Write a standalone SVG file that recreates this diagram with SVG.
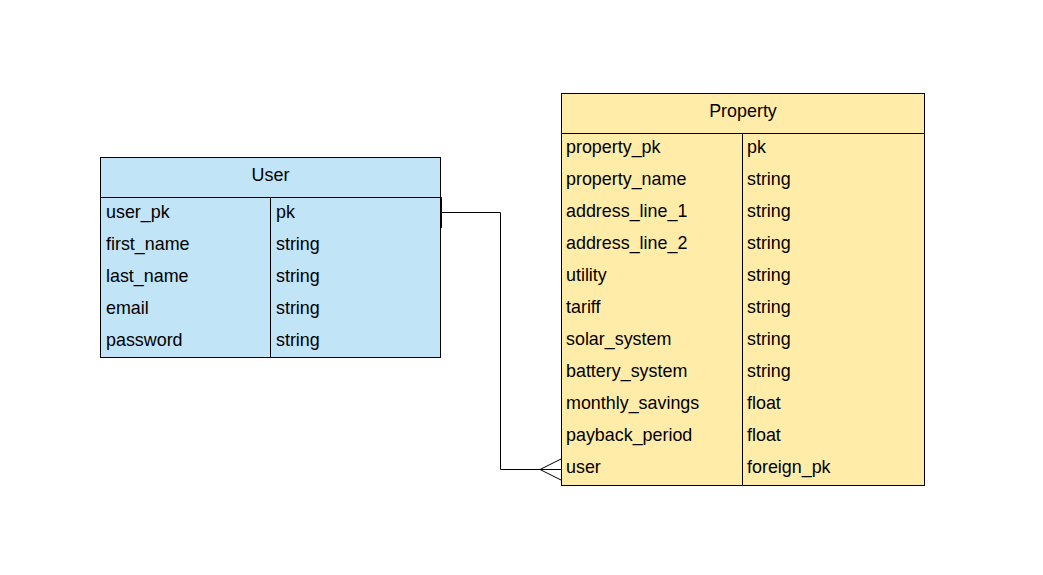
<svg xmlns="http://www.w3.org/2000/svg" width="1043" height="575" viewBox="0 0 1043 575">
<style>
text{font-family:"Liberation Sans",Arial,sans-serif;font-size:17.9px;fill:#000}
.hd{text-anchor:middle}
.box{stroke:#000;stroke-width:1}
.ln{stroke:#000;stroke-width:1;fill:none}
.user{fill:#c1e4f7}
.prop{fill:#ffeca9}
</style>
<rect width="1043" height="575" fill="#fff"/>
<g id="connectors">
<path class="ln" d="M441,212.5 H500.5 V469.5 H561"/>
<line x1="441" y1="197" x2="441" y2="228" stroke="#000" stroke-width="2"/>
<path class="ln" d="M561,459 L540,469.5 L561,480"/>
</g>
<g id="user">
<rect class="box user" x="100.5" y="157.5" width="340" height="200"/>
<line class="ln" x1="100.5" y1="197.5" x2="440.5" y2="197.5"/>
<line class="ln" x1="270.5" y1="197.5" x2="270.5" y2="357.5"/>
<text class="hd" x="270.5" y="180.5">User</text>
<text x="106" y="218">user_pk</text><text x="276" y="218">pk</text>
<text x="106" y="250">first_name</text><text x="276" y="250">string</text>
<text x="106" y="282">last_name</text><text x="276" y="282">string</text>
<text x="106" y="314">email</text><text x="276" y="314">string</text>
<text x="106" y="346">password</text><text x="276" y="346">string</text>
</g>
<g id="property">
<rect class="box prop" x="561.5" y="93.5" width="363" height="392"/>
<line class="ln" x1="561.5" y1="133.5" x2="924.5" y2="133.5"/>
<line class="ln" x1="742.5" y1="133.5" x2="742.5" y2="485.5"/>
<text class="hd" x="743" y="116.5">Property</text>
<text x="566" y="153">property_pk</text><text x="747" y="153">pk</text>
<text x="566" y="185">property_name</text><text x="747" y="185">string</text>
<text x="566" y="217">address_line_1</text><text x="747" y="217">string</text>
<text x="566" y="249">address_line_2</text><text x="747" y="249">string</text>
<text x="566" y="281">utility</text><text x="747" y="281">string</text>
<text x="566" y="313">tariff</text><text x="747" y="313">string</text>
<text x="566" y="345">solar_system</text><text x="747" y="345">string</text>
<text x="566" y="377">battery_system</text><text x="747" y="377">string</text>
<text x="566" y="409">monthly_savings</text><text x="747" y="409">float</text>
<text x="566" y="441">payback_period</text><text x="747" y="441">float</text>
<text x="566" y="473">user</text><text x="747" y="473">foreign_pk</text>
</g>
</svg>
